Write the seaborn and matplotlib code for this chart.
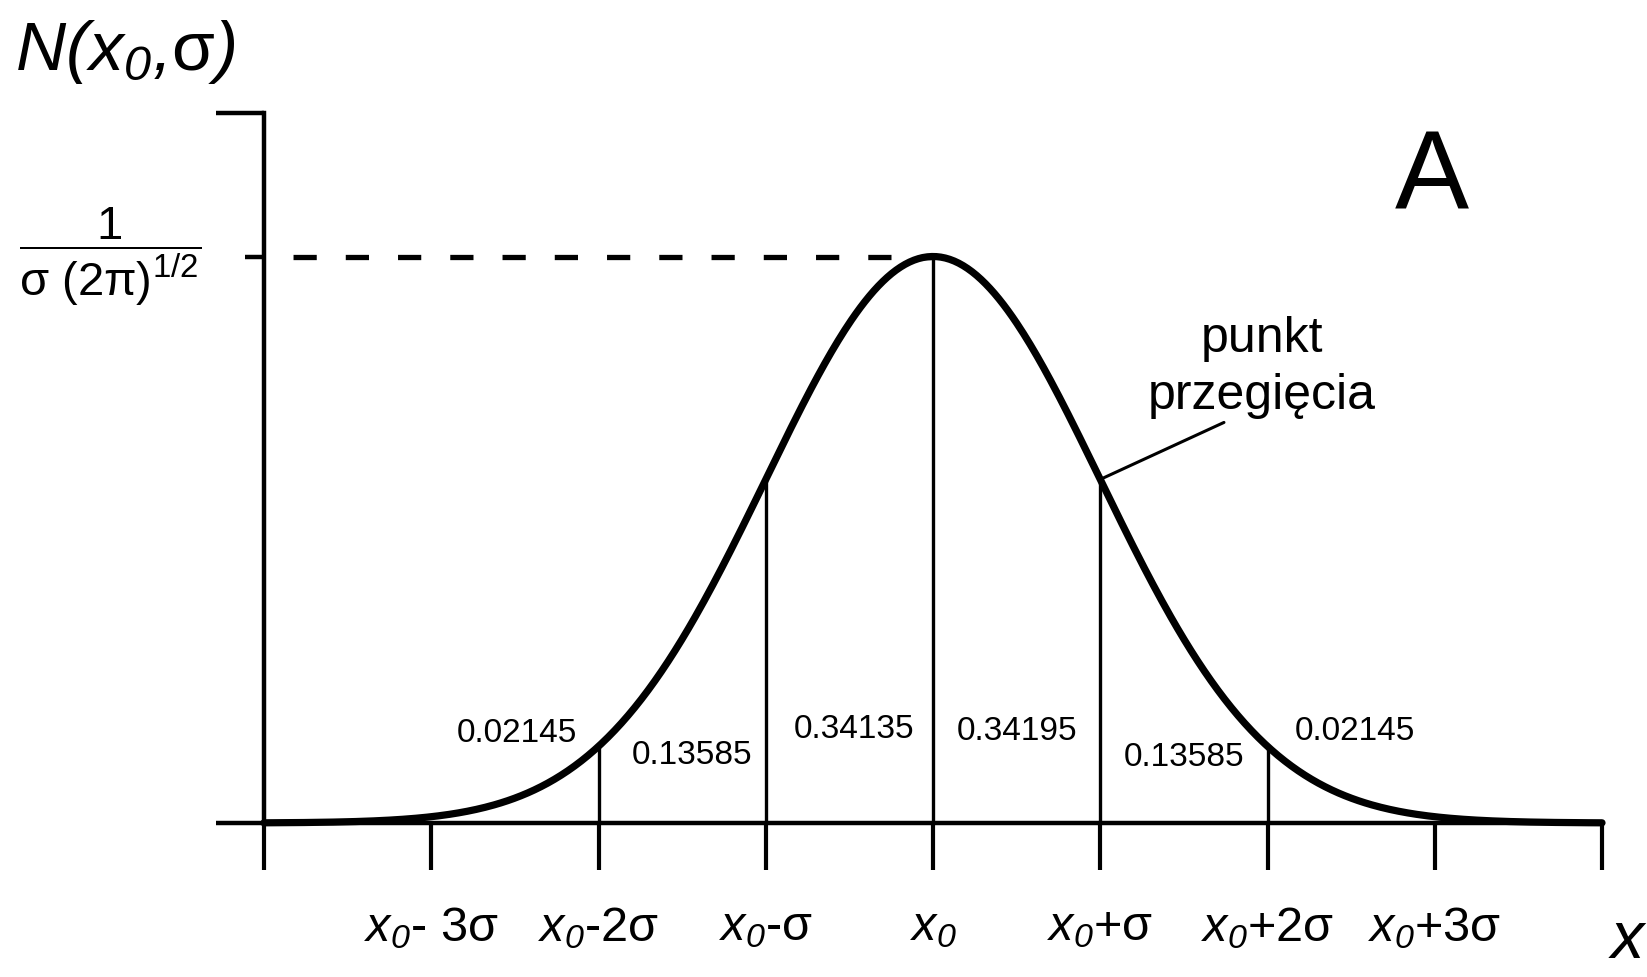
import numpy as np
import pandas as pd
import seaborn as sns
import matplotlib.pyplot as plt

sns.set_style("ticks")
plt.rcParams['font.family'] = ['Liberation Sans', 'DejaVu Sans']
plt.rcParams['text.color'] = 'black'
plt.rcParams['axes.labelcolor'] = 'black'
plt.rcParams['mathtext.fontset'] = 'custom'
plt.rcParams['mathtext.rm'] = 'Liberation Sans'
plt.rcParams['mathtext.it'] = 'Liberation Sans:italic'
plt.rcParams['mathtext.sf'] = 'Liberation Sans:italic'  # italic digits for the subscript 0

# normal curve N(x0, sigma), x in units of sigma
x0 = 0.0
sigma = 1.0
sigma_steps = [-4, -3, -2, -1, 0, 1, 2, 3, 4]
tick_labels = ["", r"$x_{\mathsf{0}}$- 3σ", r"$x_{\mathsf{0}}$-2σ", r"$x_{\mathsf{0}}$-σ", r"$x_{\mathsf{0}}$",
               r"$x_{\mathsf{0}}$+σ", r"$x_{\mathsf{0}}$+2σ", r"$x_{\mathsf{0}}$+3σ", ""]
line_steps = [-2, -1, 0, 1, 2]
area_values = ["0.02145", "0.13585", "0.34135", "0.34195", "0.13585", "0.02145"]
# where the area values sit (x in sigma, y in density)
area_x = [-2.49, -1.44, -0.47, 0.50, 1.50, 2.52]
area_y = [0.057, 0.0415, 0.060, 0.0585, 0.040, 0.0585]


def gauss(x):
    return np.exp(-0.5 * ((x - x0) / sigma) ** 2) / (sigma * np.sqrt(2 * np.pi))


xs = np.linspace(x0 + sigma_steps[0] * sigma, x0 + sigma_steps[-1] * sigma, 600)
df = pd.DataFrame({"x": xs, "N": gauss(xs)})
peak = gauss(x0)

fig = plt.figure(figsize=(16.47, 9.77), dpi=100)
ax = fig.add_axes([264 / 1647, 154 / 977, 1338 / 1647, 710 / 977])

sns.lineplot(data=df, x="x", y="N", ax=ax, color="black", lw=5.2, clip_on=False, zorder=4)

# lines under the curve at x0 + k*sigma
ks = np.array(line_steps, dtype=float)
ax.vlines(x0 + ks * sigma, 0, gauss(x0 + ks * sigma), color="black", lw=2.4, zorder=3)

# dashed line to the maximum
ax.plot([sigma_steps[0], x0], [peak, peak], color="black", lw=3.8, ls=(4.4, (4.4, 5.5)))

ax.set_xlim(sigma_steps[0], sigma_steps[-1])
ax.set_ylim(0, 0.5)
sns.despine(ax=ax)
for s in ["left", "bottom"]:
    ax.spines[s].set_linewidth(3.2)
    ax.spines[s].set_color("black")

ax.set_xticks(x0 + np.array(sigma_steps) * sigma, tick_labels)
ax.tick_params(axis="x", direction="out", length=34, width=3, pad=25, labelsize=35, colors="black")
ax.set_yticks([0, 0.5], ["", ""])
ax.tick_params(axis="y", which="major", direction="out", length=34.5, width=3.2, colors="black")
ax.set_yticks([peak], [r"$\dfrac{1}{\mathrm{\sigma}\ (2\mathrm{\pi})^{1/2}}$"], minor=True)
ax.tick_params(axis="y", which="minor", direction="out", length=14, width=3.2, pad=31,
               labelsize=34, colors="black")
for t in ax.get_yticklabels(minor=True):
    t.set_va("center")

ax.set_ylabel(r"$\mathsf{N(x_{0}{,}}\mathrm{\sigma}\mathsf{)}$", fontsize=50, rotation=0,
              ha="left", va="baseline")
ax.yaxis.set_label_coords(-0.186, 1.06)
ax.set_xlabel("x", fontsize=48, style="italic", ha="center", va="baseline")
ax.xaxis.set_label_coords(1.019, -0.19)

for val, xv, yv in zip(area_values, area_x, area_y):
    ax.text(xv, yv, val, fontsize=24, ha="center", va="baseline")

ax.text(0.873, 0.866, "A", transform=ax.transAxes, fontsize=80, ha="center", va="baseline")

ax.annotate("punkt\nprzegięcia", xy=(x0 + sigma, gauss(x0 + sigma)), xytext=(1.967, 0.321),
            textcoords="data", fontsize=36, ha="center", va="center", multialignment="center",
            linespacing=1.3,
            arrowprops=dict(arrowstyle="-", color="black", lw=2.2, relpos=(0.37, 0.0),
                            shrinkA=1, shrinkB=0))

plt.savefig("out.png", dpi=100)
